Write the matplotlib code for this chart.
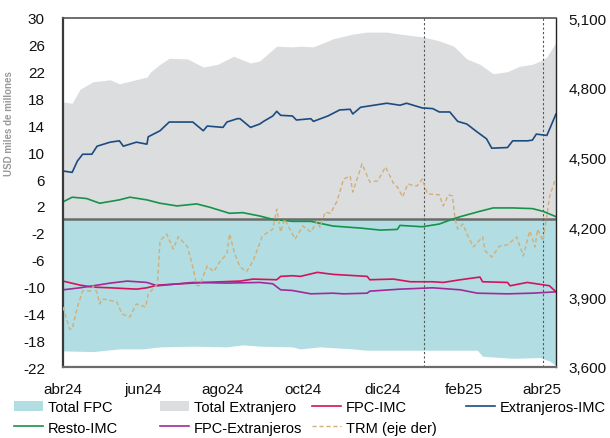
import matplotlib
matplotlib.use("Agg")
import matplotlib.pyplot as plt
from matplotlib.patches import Patch
from matplotlib.lines import Line2D
import pandas as pd

plt.rcParams["font.family"] = ["Liberation Sans", "DejaVu Sans"]

# ---- data (USD miles de millones; TRM in COP per USD) ----
ext_total_dates = ["2024-04-01", "2024-04-08", "2024-04-14", "2024-04-24", "2024-05-07", "2024-05-14",
                   "2024-06-04", "2024-06-07", "2024-06-14", "2024-06-21", "2024-07-05", "2024-07-17",
                   "2024-07-28", "2024-08-09", "2024-08-22", "2024-08-29", "2024-09-11", "2024-09-23",
                   "2024-09-29", "2024-10-09", "2024-10-24", "2024-11-08", "2024-11-19", "2024-12-04",
                   "2024-12-14", "2024-12-31", "2025-01-13", "2025-01-24", "2025-02-03", "2025-02-13",
                   "2025-02-23", "2025-03-06", "2025-03-15", "2025-03-25", "2025-03-31", "2025-04-05",
                   "2025-04-12"]
ext_total = [17.5, 17.3, 19.4, 20.5, 20.8, 20.2, 21.2, 22.0, 23.1, 24.0, 23.9, 22.7, 23.1, 24.3, 23.3,
             23.6, 25.8, 25.7, 25.8, 25.7, 26.9, 27.6, 27.9, 27.9, 27.6, 27.2, 26.6, 25.8, 23.9, 23.1,
             21.7, 22.0, 22.8, 23.1, 23.6, 24.2, 26.4]

fpc_total_dates = ["2024-04-01", "2024-04-24", "2024-05-14", "2024-06-01", "2024-06-14", "2024-07-09",
                   "2024-08-04", "2024-08-16", "2024-08-29", "2024-09-23", "2024-09-29", "2024-10-14",
                   "2024-11-08", "2024-11-19", "2024-12-14", "2025-01-08", "2025-02-11", "2025-02-15",
                   "2025-03-10", "2025-03-31", "2025-04-07", "2025-04-12"]
fpc_total = [-19.6, -19.7, -19.3, -19.3, -19.0, -18.9, -19.0, -18.7, -18.9, -19.0, -19.3, -19.0,
             -19.3, -19.5, -19.5, -19.5, -19.5, -20.4, -20.7, -20.6, -21.1, -21.8]

ext_imc_dates = ["2024-04-01", "2024-04-08", "2024-04-12", "2024-04-16", "2024-04-23", "2024-04-27",
                 "2024-05-07", "2024-05-14", "2024-05-17", "2024-05-27", "2024-06-04", "2024-06-05",
                 "2024-06-14", "2024-06-21", "2024-07-09", "2024-07-17", "2024-07-20", "2024-08-01",
                 "2024-08-04", "2024-08-12", "2024-08-14", "2024-08-22", "2024-08-29", "2024-09-01",
                 "2024-09-08", "2024-09-11", "2024-09-14", "2024-09-23", "2024-09-26", "2024-10-07",
                 "2024-10-09", "2024-10-20", "2024-10-29", "2024-11-06", "2024-11-08", "2024-11-14",
                 "2024-11-24", "2024-12-04", "2024-12-14", "2024-12-19", "2024-12-31", "2025-01-08",
                 "2025-01-13", "2025-01-21", "2025-01-27", "2025-02-03", "2025-02-11", "2025-02-18",
                 "2025-02-22", "2025-03-06", "2025-03-10", "2025-03-21", "2025-03-25", "2025-03-28",
                 "2025-04-05", "2025-04-07", "2025-04-12"]
ext_imc = [7.2, 7.0, 8.7, 9.7, 9.7, 10.9, 11.5, 11.7, 10.9, 11.5, 11.2, 12.3, 13.2, 14.5, 14.5, 13.2,
           13.9, 13.7, 14.5, 15.0, 15.0, 13.7, 14.2, 14.6, 15.4, 16.1, 15.5, 15.4, 14.8, 15.0, 14.6,
           15.4, 16.3, 16.4, 15.7, 16.7, 17.0, 17.3, 17.0, 17.3, 16.6, 16.5, 16.0, 16.0, 14.6, 14.2,
           13.0, 12.0, 10.6, 10.7, 11.7, 11.7, 11.8, 12.7, 12.5, 13.4, 15.7]

resto_dates = ["2024-04-01", "2024-04-08", "2024-04-19", "2024-04-29", "2024-05-14", "2024-05-22",
               "2024-06-04", "2024-06-14", "2024-06-27", "2024-07-12", "2024-07-22", "2024-08-06",
               "2024-08-16", "2024-08-29", "2024-09-08", "2024-09-23", "2024-10-07", "2024-10-24",
               "2024-11-14", "2024-11-29", "2024-12-12", "2024-12-14", "2024-12-31", "2025-01-13",
               "2025-01-24", "2025-01-29", "2025-02-13", "2025-02-23", "2025-03-10", "2025-03-25",
               "2025-04-02", "2025-04-12"]
resto_imc = [2.6, 3.3, 3.1, 2.4, 2.9, 3.3, 2.9, 2.4, 2.0, 2.3, 1.8, 0.9, 1.0, 0.5, 0.0, -0.3, -0.3,
             -1.0, -1.3, -1.6, -1.5, -0.9, -1.1, -0.7, 0.1, 0.4, 1.2, 1.7, 1.7, 1.6, 1.2, 0.4]

fpc_imc_dates = ["2024-04-01", "2024-04-14", "2024-04-24", "2024-05-07", "2024-05-27", "2024-06-04",
                 "2024-06-12", "2024-07-09", "2024-07-17", "2024-08-14", "2024-08-24", "2024-09-11",
                 "2024-09-14", "2024-09-23", "2024-09-29", "2024-10-12", "2024-10-24", "2024-11-19",
                 "2024-11-21", "2024-12-09", "2024-12-22", "2025-01-08", "2025-01-16", "2025-01-29",
                 "2025-02-13", "2025-02-15", "2025-03-06", "2025-03-08", "2025-03-21", "2025-03-28",
                 "2025-04-07", "2025-04-12"]
fpc_imc = [-9.2, -9.8, -10.1, -10.2, -10.4, -10.2, -9.8, -9.5, -9.4, -9.2, -8.9, -9.0, -8.5, -8.4,
           -8.5, -7.9, -8.2, -8.5, -9.0, -8.9, -9.3, -9.3, -9.4, -9.0, -8.6, -9.3, -9.4, -9.9, -9.4,
           -9.6, -9.9, -10.8]

fpc_ext_dates = ["2024-04-01", "2024-04-14", "2024-04-24", "2024-05-07", "2024-05-20", "2024-06-04",
                 "2024-06-12", "2024-07-09", "2024-08-04", "2024-08-29", "2024-09-08", "2024-09-14",
                 "2024-09-23", "2024-10-07", "2024-10-24", "2024-11-01", "2024-11-19", "2024-11-21",
                 "2024-12-14", "2025-01-08", "2025-01-29", "2025-02-11", "2025-03-06", "2025-03-25",
                 "2025-04-12"]
fpc_ext = [-10.5, -10.2, -9.9, -9.5, -9.2, -9.4, -9.9, -9.4, -9.5, -9.4, -9.6, -10.5, -10.6, -11.1,
           -11.0, -11.1, -11.0, -10.7, -10.4, -10.2, -10.5, -11.0, -11.1, -11.0, -10.8]

trm_dates = ["2024-04-01", "2024-04-06", "2024-04-08", "2024-04-12", "2024-04-16", "2024-04-22",
             "2024-04-24", "2024-04-27", "2024-04-29", "2024-05-01", "2024-05-12", "2024-05-16",
             "2024-05-22", "2024-05-27", "2024-06-03", "2024-06-05", "2024-06-12", "2024-06-14",
             "2024-06-19", "2024-06-24", "2024-06-28", "2024-07-05", "2024-07-09", "2024-07-12",
             "2024-07-14", "2024-07-20", "2024-07-25", "2024-07-30", "2024-08-04", "2024-08-06",
             "2024-08-10", "2024-08-14", "2024-08-19", "2024-08-24", "2024-08-31", "2024-09-08",
             "2024-09-11", "2024-09-14", "2024-09-17", "2024-09-25", "2024-10-01", "2024-10-07",
             "2024-10-12", "2024-10-14", "2024-10-18", "2024-10-22", "2024-10-27", "2024-11-01",
             "2024-11-06", "2024-11-08", "2024-11-12", "2024-11-15", "2024-11-19", "2024-11-21",
             "2024-11-27", "2024-12-03", "2024-12-09", "2024-12-12", "2024-12-16", "2024-12-20",
             "2024-12-24", "2024-12-27", "2024-12-31", "2025-01-04", "2025-01-13", "2025-01-16",
             "2025-01-20", "2025-01-23", "2025-01-25", "2025-01-27", "2025-01-31", "2025-02-03",
             "2025-02-08", "2025-02-15", "2025-02-17", "2025-02-22", "2025-02-28", "2025-03-06",
             "2025-03-13", "2025-03-18", "2025-03-23", "2025-03-27", "2025-03-29", "2025-04-02",
             "2025-04-05", "2025-04-07", "2025-04-12"]
trm = [3858, 3763, 3763, 3858, 3927, 3927, 3948, 3920, 3871, 3893, 3880, 3828, 3815, 3871, 3858,
       3914, 3957, 4142, 4172, 4107, 4160, 4116, 4030, 3950, 3950, 4034, 4010, 4056, 4086, 4172,
       4086, 4030, 4010, 4056, 4163, 4193, 4279, 4180, 4236, 4150, 4206, 4180, 4228, 4200, 4266,
       4260, 4313, 4408, 4421, 4352, 4421, 4473, 4421, 4395, 4400, 4460, 4390, 4374, 4331, 4387,
       4380, 4378, 4408, 4344, 4340, 4292, 4340, 4335, 4236, 4193, 4215, 4172, 4116, 4159, 4099,
       4073, 4120, 4125, 4159, 4077, 4185, 4116, 4193, 4142, 4250, 4330, 4417]

marker_dates = ["2025-01-01", "2025-04-02"]

x_tick_dates = ["2024-04-01", "2024-06-01", "2024-08-01", "2024-10-01", "2024-12-01",
                "2025-02-01", "2025-04-01"]
x_tick_labels = ["abr24", "jun24", "ago24", "oct24", "dic24", "feb25", "abr25"]
y_ticks = [-22, -18, -14, -10, -6, -2, 2, 6, 10, 14, 18, 22, 26, 30]
y2_ticks = [3600, 3900, 4200, 4500, 4800, 5100]

# ---- styling ----
C_FPC = "#b1dde3"
C_EXT = "#dcdddf"
C_FPC_IMC = "#d5135a"
C_EXT_IMC = "#1c4b80"
C_RESTO = "#16934a"
C_FPC_EXT = "#a02b98"
C_TRM = "#d2ae78"

d = pd.to_datetime
x_start, x_end = d("2024-04-01"), d("2025-04-12")

fig = plt.figure(figsize=(6.10, 4.39), dpi=100)
ax = fig.add_axes([63 / 610, 1 - 368 / 439, (556 - 63) / 610, (368 - 19) / 439])

ax.fill_between(d(ext_total_dates), 0, ext_total, color=C_EXT, lw=0, zorder=1)
ax.fill_between(d(fpc_total_dates), 0, fpc_total, color=C_FPC, lw=0, zorder=1)
ax.axhline(0, color="#6b6b6b", lw=1.8, zorder=2)

for xd in marker_dates:
    ax.axvline(d(xd), color="#555555", lw=0.8, ls=(0, (2, 2)), zorder=2)

ax.plot(d(ext_imc_dates), ext_imc, color=C_EXT_IMC, lw=1.2, zorder=4)
ax.plot(d(resto_dates), resto_imc, color=C_RESTO, lw=1.2, zorder=4)
ax.plot(d(fpc_imc_dates), fpc_imc, color=C_FPC_IMC, lw=1.2, zorder=4)
ax.plot(d(fpc_ext_dates), fpc_ext, color=C_FPC_EXT, lw=1.2, zorder=4)

ax.set_ylim(-22, 30)
ax.set_yticks(y_ticks)
ax.set_yticklabels([str(v) for v in y_ticks])
ax.set_xticks(d(x_tick_dates))
ax.set_xticklabels(x_tick_labels)
ax.tick_params(axis="both", length=0, labelsize=11, colors="#111111")
ax.tick_params(axis="x", pad=11)
ax.tick_params(axis="y", pad=13)
ax.set_ylabel("USD miles de millones", fontsize=7, color="#999999", fontweight="bold")
ax.yaxis.set_label_coords(-0.099, 0.70)

for side, col, lw in [("left", "#3a3a3a", 1.6), ("bottom", "#6b6b6b", 1.6),
                      ("top", "#555555", 1.2), ("right", "#222222", 1.0)]:
    ax.spines[side].set_color(col)
    ax.spines[side].set_linewidth(lw)
    ax.spines[side].set_zorder(6)

ax2 = ax.twinx()
ax2.plot(d(trm_dates), trm, color=C_TRM, lw=1.0, ls=(0, (3, 2)), zorder=5)
ax2.set_ylim(3600, 5100)
ax2.set_yticks(y2_ticks)
ax2.set_yticklabels([f"{v:,}" for v in y2_ticks])
ax2.tick_params(axis="y", length=0, labelsize=11, pad=9, colors="#111111")
for s in ax2.spines.values():
    s.set_visible(False)
ax.set_xlim(x_start, x_end)

# ---- legend, laid out in four fixed columns ----
legend_cols = [
    (14, [(Patch(facecolor=C_FPC, edgecolor="none"), "Total FPC"),
          (Line2D([], [], color=C_RESTO, lw=1.2), "Resto-IMC")]),
    (160, [(Patch(facecolor=C_EXT, edgecolor="none"), "Total Extranjero"),
           (Line2D([], [], color=C_FPC_EXT, lw=1.2), "FPC-Extranjeros")]),
    (312, [(Line2D([], [], color=C_FPC_IMC, lw=1.2), "FPC-IMC"),
           (Line2D([], [], color=C_TRM, lw=1.0, ls=(0, (3, 2))), "TRM (eje der)")]),
    (466, [(Line2D([], [], color=C_EXT_IMC, lw=1.2), "Extranjeros-IMC")]),
]
for x0, items in legend_cols:
    fig.legend([h for h, _ in items], [t for _, t in items], loc="upper left",
               bbox_to_anchor=(x0 / 610, 1 - 401 / 439), frameon=False, borderpad=0,
               borderaxespad=0, handlelength=2.0, handleheight=0.75, handletextpad=0.3,
               labelspacing=0.45, fontsize=10.5)

fig.savefig("out.png", dpi=100)
